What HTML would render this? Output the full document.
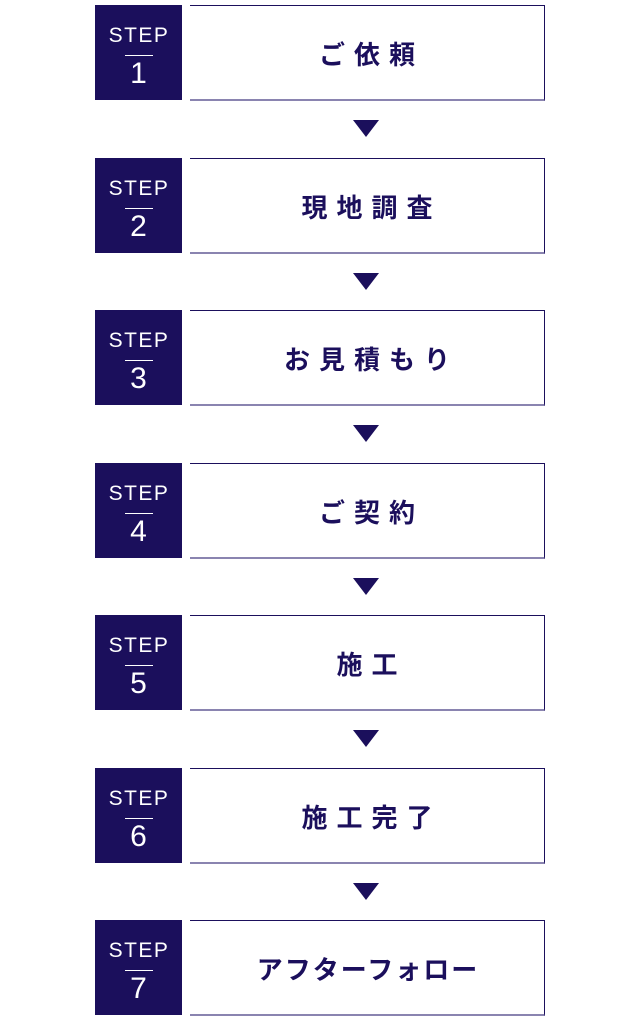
<!DOCTYPE html>
<html><head><meta charset="utf-8"><style>
body{margin:0;width:640px;height:1020px;background:#fff;position:relative;overflow:hidden;font-family:"Liberation Sans","Noto Sans CJK JP",sans-serif}
.s{position:absolute;left:95px;width:87px;height:95px;background:#1b0f5c;color:#fff;text-align:center}
.s .a{position:absolute;top:20px;left:0;right:0;font-size:21px;line-height:22px;letter-spacing:1.5px;padding-left:1px}
.s .l{position:absolute;top:50px;left:30px;width:28px;height:1px;background:#fff}
.s .n{position:absolute;top:53px;left:0;right:0;font-size:30px;line-height:32px}
.b{position:absolute;left:190px;width:354px;height:93px;border-top:1px solid #1b0f5c;border-bottom:2px solid #8a84b0;border-right:1px solid #1b0f5c;text-align:center;line-height:98px;font-size:26px;font-weight:bold;color:#1b0f5c;letter-spacing:9px;text-indent:9px}
.t{position:absolute;left:353px;width:0;height:0;border-left:13px solid transparent;border-right:13px solid transparent;border-top:17px solid #1b0f5c}
</style></head><body>
<div class="s" style="top:5px"><div class="a">STEP</div><div class="l"></div><div class="n">1</div></div>
<div class="b" style="top:5px">ご依頼</div>
<div class="t" style="top:120px"></div>
<div class="s" style="top:157.5px"><div class="a">STEP</div><div class="l"></div><div class="n">2</div></div>
<div class="b" style="top:157.5px">現地調査</div>
<div class="t" style="top:272.5px"></div>
<div class="s" style="top:310px"><div class="a">STEP</div><div class="l"></div><div class="n">3</div></div>
<div class="b" style="top:310px">お見積もり</div>
<div class="t" style="top:425px"></div>
<div class="s" style="top:462.5px"><div class="a">STEP</div><div class="l"></div><div class="n">4</div></div>
<div class="b" style="top:462.5px">ご契約</div>
<div class="t" style="top:577.5px"></div>
<div class="s" style="top:615px"><div class="a">STEP</div><div class="l"></div><div class="n">5</div></div>
<div class="b" style="top:615px">施工</div>
<div class="t" style="top:730px"></div>
<div class="s" style="top:767.5px"><div class="a">STEP</div><div class="l"></div><div class="n">6</div></div>
<div class="b" style="top:767.5px">施工完了</div>
<div class="t" style="top:882.5px"></div>
<div class="s" style="top:920px"><div class="a">STEP</div><div class="l"></div><div class="n">7</div></div>
<div class="b" style="top:920px;letter-spacing:2px;text-indent:2px">アフターフォロー</div>
</body></html>
